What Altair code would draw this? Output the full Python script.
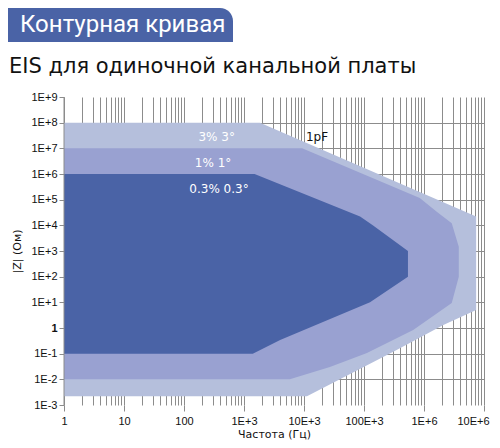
import altair as alt
import pandas as pd

# ---- data ----
light_freq = [1, 1850, 7.4e6, 7.4e6, 2.1e6, 3.5e5, 1.12e4, 1]
light_z = [1e8, 1e8, 2.2e4, 5, 1.3, 0.14, 2.2e-3, 2.2e-3]

mid_freq = [1, 9.3e3, 8.5e5, 1.65e6, 2.9e6, 3.8e6, 3.8e6, 2.9e6, 6.6e5, 1.12e5, 2.7e4, 5.8e3, 1]
mid_z = [1e7, 1e7, 1.15e5, 3.3e4, 1.2e4, 1.45e3, 100, 9.4, 0.83, 0.107, 0.03, 0.01, 0.01]

dark_freq = [1, 1.5e3, 8.6e4, 1.4e5, 5.4e5, 5.4e5, 1.26e5, 4e3, 1.4e3, 1]
dark_z = [1e6, 1e6, 2.2e4, 1e4, 1e3, 100, 10, 0.34, 0.1, 0.1]

region_labels = ["3% 3°", "1% 1°", "0.3% 0.3°"]
region_label_freq = [350, 305, 383]
region_label_z = [2.75e7, 2.7e6, 2.6e5]

cap_label = ["1pF"]
cap_label_freq = [1.65e4]
cap_label_z = [2.75e7]

x_major = [1, 10, 100, 1000, 10000, 100000, 1000000, 10000000]
x_major_labels = ["1", "10", "100", "1E+3", "10E+3", "100E+3", "1E+6", "10E+6"]
x_grid = [m * 10 ** d for d in range(7) for m in range(1, 10)] + [10000000]

y_major = [0.001, 0.01, 0.1, 1, 10, 100, 1000, 10000, 100000, 1000000,
           10000000, 100000000, 1000000000]
y_major_labels = ["1E-3", "1E-2", "1E-1", "1", "1E+1", "1E+2", "1E+3", "1E+4",
                  "1E+5", "1E+6", "1E+7", "1E+8", "1E+9"]

header_text = ["Контурная кривая"]
title_text = ["EIS для одиночной канальной платы"]
x_title = "Частота (Гц)"
y_title = "|Z| (Ом)"

# ---- styles ----
DARK = "#4A63A6"
MID = "#99A1D1"
LIGHT = "#B5BFDC"
GRID = "#8C8C8C"
TXT = "#111111"


def label_expr(vals, labels):
    parts = [f"datum.value == {v!r} ? '{l}'" for v, l in zip(vals, labels)]
    return " : ".join(parts) + " : ''"


decade_test = "indexof([" + ",".join(str(v) for v in x_major) + "], datum.value) >= 0"

x_scale = alt.Scale(type="log", domain=[1, 10000000], nice=False)
y_scale = alt.Scale(type="log", domain=[0.001, 1000000000], nice=False)

x_axis = alt.Axis(
    values=x_grid,
    labelExpr=label_expr(x_major, x_major_labels),
    grid=True, gridColor=GRID, gridWidth=1,
    domain=False,
    tickColor=GRID, tickSize=6,
    tickOpacity={"condition": {"test": decade_test, "value": 1}, "value": 0},
    labelFont="Liberation Sans", labelFontSize=11, labelColor=TXT,
    labelPadding=4, labelFlush=False, labelOverlap=False,
    labelOffset={"condition": {"test": "datum.value == 10000000", "value": -11}, "value": 0},
    title=x_title, titleFont="DejaVu Sans", titleFontSize=11,
    titleFontWeight="normal", titleColor=TXT, titlePadding=2,
)
y_axis = alt.Axis(
    values=y_major,
    labelExpr=label_expr(y_major, y_major_labels),
    grid=True, gridColor=GRID, gridWidth=1,
    gridOpacity={"condition": {"test": "datum.value > 500000000 || datum.value < 0.002",
                               "value": 0}, "value": 1},
    domain=False,
    tickColor=GRID, tickSize=5,
    labelFont="Liberation Sans", labelFontSize=11, labelColor=TXT,
    labelFontWeight={"condition": {"test": "datum.value == 1", "value": "bold"},
                     "value": "normal"},
    labelPadding=2, labelFlush=False, labelOverlap=False,
    title=y_title, titleFont="DejaVu Sans", titleFontSize=11,
    titleFontWeight="normal", titleColor=TXT, titlePadding=9,
)


def xenc():
    return alt.X("f:Q", scale=x_scale, axis=x_axis)


def yenc():
    return alt.Y("z:Q", scale=y_scale, axis=y_axis)


def poly(freq, z, color):
    df = pd.DataFrame({"f": freq, "z": z, "i": list(range(len(freq)))})
    return alt.Chart(df).mark_line(filled=True, color=color, strokeWidth=0).encode(
        x=xenc(), y=yenc(), order="i:Q"
    )


light = poly(light_freq, light_z, LIGHT)
mid = poly(mid_freq, mid_z, MID)
dark = poly(dark_freq, dark_z, DARK)

reg_df = pd.DataFrame({"f": region_label_freq, "z": region_label_z, "t": region_labels})
reg_text = alt.Chart(reg_df).mark_text(
    font="DejaVu Sans", fontSize=12, color="white", align="center", baseline="middle"
).encode(x=xenc(), y=yenc(), text="t:N")

cap_df = pd.DataFrame({"f": cap_label_freq, "z": cap_label_z, "t": cap_label})
cap_text = alt.Chart(cap_df).mark_text(
    font="DejaVu Sans", fontSize=12, color=TXT, align="center", baseline="middle"
).encode(x=xenc(), y=yenc(), text="t:N")

axis_line = alt.Chart(pd.DataFrame({"a": [0]})).mark_rule(color=GRID, strokeWidth=1).encode(
    x=alt.XDatum(1, type="quantitative"),
    y=alt.YDatum(0.001, type="quantitative"),
    y2=alt.Y2Datum(1000000000),
)

hdr_df = pd.DataFrame({"t": header_text})
header_box = alt.Chart(hdr_df).mark_rect(color=DARK, cornerRadiusTopRight=13).encode(
    x=alt.value(-56), x2=alt.value(169), y=alt.value(-89), y2=alt.value(-55)
)
header_lbl = alt.Chart(hdr_df).mark_text(
    font="Roboto", fontSize=24, color="white",
    align="left", baseline="alphabetic"
).encode(x=alt.value(-44), y=alt.value(-65), text="t:N")

ttl_df = pd.DataFrame({"t": title_text})
title_lbl = alt.Chart(ttl_df).mark_text(
    font="DejaVu Sans", fontSize=21, color=TXT, align="left", baseline="alphabetic"
).encode(x=alt.value(-55), y=alt.value(-24), text="t:N")

chart = alt.layer(
    light, mid, dark, reg_text, cap_text, axis_line, header_box, header_lbl, title_lbl
).properties(
    width=420, height=308,
    autosize=alt.AutoSizeParams(type="none"),
    padding={"left": 56, "top": 89, "right": 8, "bottom": 35},
).configure_view(strokeWidth=0)

chart.save("out.html", embed_options={"renderer": "svg", "actions": False})
